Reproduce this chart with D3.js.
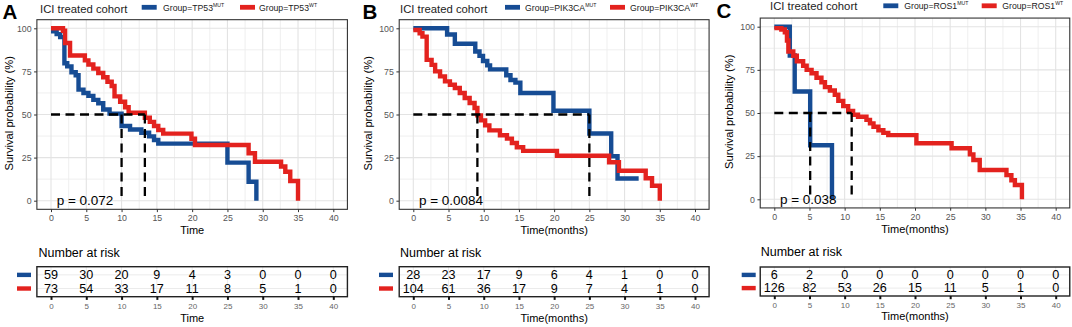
<!DOCTYPE html>
<html><head><meta charset="utf-8">
<script src="https://cdn.jsdelivr.net/npm/d3@7"></script>
<style>
body{margin:0;background:#fff}
svg{display:block}
text{font-family:"Liberation Sans",Arial,Helvetica,sans-serif}
</style>
</head><body>
<svg id="chart" width="1072" height="327"></svg>
<script>
// ---------------- DATA ----------------
const timeTicks = [0, 5, 10, 15, 20, 25, 30, 35, 40];
const survTicks = [0, 25, 50, 75, 100];
const panelLetters = ["A", "B", "C"];
const genes = ["TP53", "PIK3CA", "ROS1"];
const groupSuffix = ["MUT", "WT"];
const plotTitle = "ICI treated cohort";
const xTitles = ["Time", "Time(months)", "Time(months)"];
const pValues = ["p = 0.072", "p = 0.0084", "p = 0.038"];

// Panel A (TP53)
const aMutTime = [0, 0.8, 1.3, 1.9, 2.3, 2.9, 3.5, 3.9, 4.6, 5.3, 6.0, 6.7, 7.4, 8.3, 10.0, 11.2, 12.8, 13.9, 14.6, 15.2, 25.0, 28.0, 29.1];
const aMutSurv = [98.3, 96.6, 94.9, 79.7, 77.9, 74.5, 72.8, 64.4, 62.5, 60.8, 58.5, 56.5, 52.9, 50.5, 43.3, 41.3, 39.4, 37.3, 35.2, 33.1, 22.1, 11.0, 0];
const aWtTime = [0, 1.7, 2.0, 2.7, 4.8, 5.3, 6.0, 6.7, 7.4, 8.0, 8.6, 9.0, 9.8, 10.5, 11.0, 13.3, 14.0, 14.6, 15.2, 15.9, 19.9, 20.4, 28.0, 28.9, 32.6, 33.2, 33.9, 35.0];
const aWtSurv = [100, 98.6, 91.5, 84.2, 81.4, 79.0, 76.6, 74.1, 71.6, 69.0, 66.5, 60.5, 57.4, 54.2, 51.0, 48.1, 45.7, 43.3, 41.0, 38.9, 35.9, 32.3, 27.5, 22.6, 19.8, 16.8, 11.4, 0];
const aMedians = [10.0, 13.3];
const aRiskMut = [59, 30, 20, 9, 4, 3, 0, 0, 0];
const aRiskWt = [73, 54, 33, 17, 11, 8, 5, 1, 0];

// Panel B (PIK3CA)
const bMutTime = [0, 4.8, 5.9, 8.8, 9.4, 9.9, 10.5, 10.9, 13.2, 13.8, 14.5, 15.2, 19.9, 25.0, 28.1, 29.0, 32.0];
const bMutSurv = [100, 96.4, 91.0, 86.5, 84.0, 81.0, 78.5, 76.2, 72.8, 70.0, 68.5, 62.5, 52.2, 39.0, 25.8, 12.9, 12.9];
const bWtTime = [0, 0.9, 1.3, 1.9, 2.6, 3.1, 3.8, 4.5, 5.2, 5.9, 6.6, 7.3, 8.0, 8.7, 9.1, 9.6, 10.2, 10.8, 12.3, 13.3, 14.0, 14.7, 15.6, 20.4, 27.8, 29.2, 33.0, 33.9, 35.0];
const bWtSurv = [99, 97.1, 95.2, 81.7, 78.8, 75.0, 72.1, 69.2, 67.3, 65.4, 62.5, 59.6, 56.7, 53.8, 49.5, 46.6, 43.7, 40.8, 38.0, 36.0, 33.5, 31.0, 28.9, 26.1, 22.3, 17.4, 13.0, 8.7, 0];
const bMedians = [9.1, 25.0];
const bRiskMut = [28, 23, 17, 9, 6, 4, 1, 0, 0];
const bRiskWt = [104, 61, 36, 17, 9, 7, 4, 1, 0];

// Panel C (ROS1)
const cMutTime = [0, 2.2, 2.9, 5.1, 8.2];
const cMutSurv = [100, 83.3, 62.5, 31.3, 0];
const cWtTime = [0, 1.0, 1.5, 1.8, 2.0, 2.7, 3.2, 4.1, 4.6, 5.3, 6.0, 6.7, 7.2, 7.9, 8.6, 9.1, 9.8, 10.5, 11.2, 11.9, 13.1, 13.6, 14.1, 14.8, 15.5, 16.2, 20.2, 25.2, 27.8, 28.3, 29.2, 33.0, 33.7, 34.2, 35.2];
const cWtSurv = [99.2, 98.4, 96.8, 92.0, 85.6, 83.2, 80.0, 77.4, 75.0, 73.0, 70.4, 67.8, 65.0, 63.0, 60.6, 57.0, 54.0, 51.2, 49.0, 47.8, 46.0, 44.0, 42.0, 40.0, 38.5, 37.2, 32.5, 29.6, 26.0, 22.8, 17.0, 14.0, 11.0, 8.3, 0];
const cMedians = [5.1, 11.0];
const cRiskMut = [6, 2, 0, 0, 0, 0, 0, 0, 0];
const cRiskWt = [126, 82, 53, 26, 15, 11, 5, 1, 0];

// ---------------- STYLE / LAYOUT ----------------
const colMut = "#164C94";
const colWt = "#E3221E";
const layout = [
  {x0: 51, x40: 333.3, y0: 200.7, y100: 28.3, letterX: 2.5, letterY: 19.3, titleX: 40, titleY: 12.5,
   legSw: [141.7, 240], legTx: [163, 259], legY: 7.3, legTY: 10.6, yTitleX: 8.5, yTitleY: 113.3, xTitleY: 230,
   tabTop: 266.7, tabBot: 296.7, narX: 38.5, narY: 257.3, swX: 17, botTitleY: 317.5},
  {x0: 413.3, x40: 695, y0: 200.7, y100: 28.3, letterX: 362.5, letterY: 19.3, titleX: 400, titleY: 12.5,
   legSw: [505, 610], legTx: [525, 630], legY: 7.3, legTY: 10.6, yTitleX: 368.3, yTitleY: 113.3, xTitleY: 230,
   tabTop: 266.7, tabBot: 296.7, narX: 400, narY: 257.3, swX: 379, botTitleY: 317.5},
  {x0: 774.3, x40: 1055.7, y0: 199.3, y100: 26.7, letterX: 716.5, letterY: 18.3, titleX: 770, titleY: 10,
   legSw: [883.3, 981.7], legTx: [904.3, 1002.3], legY: 5.8, legTY: 9, yTitleX: 728.5, yTitleY: 111.7, xTitleY: 228.5,
   tabTop: 267, tabBot: 296, narX: 760.7, narY: 255.8, swX: 741.7, botTitleY: 316.3}
];

const panels = [
  {mut: [aMutTime, aMutSurv], wt: [aWtTime, aWtSurv], med: aMedians, risk: [aRiskMut, aRiskWt]},
  {mut: [bMutTime, bMutSurv], wt: [bWtTime, bWtSurv], med: bMedians, risk: [bRiskMut, bRiskWt]},
  {mut: [cMutTime, cMutSurv], wt: [cWtTime, cWtSurv], med: cMedians, risk: [cRiskMut, cRiskWt]}
];

const svg = d3.select("#chart");
svg.append("rect").attr("width", 1072).attr("height", 327).attr("fill", "#fff");

panels.forEach((p, i) => {
  const L = layout[i];
  const g = svg.append("g");
  const unit = (L.x40 - L.x0) / 40;
  const x = d3.scaleLinear().domain([0, 40]).range([L.x0, L.x40]);
  const left = x(-2), right = x(42);
  const y = d3.scaleLinear().domain([0, 100]).range([L.y0, L.y100]);
  const top = y(105), bottom = y(-5);

  // grid minor
  const minorX = d3.range(2.5, 40, 5);
  const minorY = d3.range(12.5, 100, 25);
  g.append("g").selectAll("line").data(minorX).join("line")
    .attr("x1", d => x(d)).attr("x2", d => x(d)).attr("y1", top).attr("y2", bottom)
    .attr("stroke", "#EDEDED").attr("stroke-width", 0.9);
  g.append("g").selectAll("line").data(minorY).join("line")
    .attr("y1", d => y(d)).attr("y2", d => y(d)).attr("x1", left).attr("x2", right)
    .attr("stroke", "#EDEDED").attr("stroke-width", 0.9);
  g.append("g").selectAll("line").data(timeTicks).join("line")
    .attr("x1", d => x(d)).attr("x2", d => x(d)).attr("y1", top).attr("y2", bottom)
    .attr("stroke", "#E3E3E3").attr("stroke-width", 1.1);
  g.append("g").selectAll("line").data(survTicks).join("line")
    .attr("y1", d => y(d)).attr("y2", d => y(d)).attr("x1", left).attr("x2", right)
    .attr("stroke", "#E3E3E3").attr("stroke-width", 1.1);

  // curves
  const line = d3.line().x(d => x(d[0])).y(d => y(d[1])).curve(d3.curveStepAfter);
  [[p.mut, colMut], [p.wt, colWt]].forEach(([arr, col]) => {
    const pts = arr[0].map((t, k) => [t, arr[1][k]]);
    g.append("path").attr("d", line(pts)).attr("fill", "none")
      .attr("stroke", col).attr("stroke-width", 4.4).attr("stroke-linejoin", "miter");
  });

  // median lines
  const dash = "9,5.5";
  g.append("line").attr("x1", x(0)).attr("x2", x(d3.max(p.med))).attr("y1", y(50)).attr("y2", y(50))
    .attr("stroke", "#000").attr("stroke-width", 2.3).attr("stroke-dasharray", dash);
  g.append("g").selectAll("line").data(p.med).join("line")
    .attr("x1", d => x(d)).attr("x2", d => x(d)).attr("y1", y(50)).attr("y2", y(0))
    .attr("stroke", "#000").attr("stroke-width", 2.3).attr("stroke-dasharray", dash);

  // panel border
  g.append("rect").attr("x", left).attr("y", top).attr("width", right - left).attr("height", bottom - top)
    .attr("fill", "none").attr("stroke", "#333").attr("stroke-width", 1.1);

  // axes
  const xAxis = g.append("g").attr("transform", `translate(0,${bottom})`)
    .call(d3.axisBottom(x).tickValues(timeTicks).tickSize(2.8).tickPadding(2.8));
  const yAxis = g.append("g").attr("transform", `translate(${left},0)`)
    .call(d3.axisLeft(y).tickValues(survTicks).tickSize(2.8).tickPadding(2.5));
  [xAxis, yAxis].forEach(a => {
    a.select(".domain").remove();
    a.selectAll(".tick line").attr("stroke", "#333").attr("stroke-width", 1);
    a.selectAll(".tick text").attr("fill", "#555").attr("font-size", 8.8)
      .attr("font-family", '"Liberation Sans",Arial,sans-serif');
  });

  // p value
  g.append("text").attr("x", x(0) + 0.8 * unit).attr("y", y(0) + 4.3).text(pValues[i])
    .attr("font-size", 13.5).attr("fill", "#000");

  // axis titles
  g.append("text").attr("transform", `translate(${L.yTitleX},${L.yTitleY}) rotate(-90)`)
    .attr("text-anchor", "middle").attr("dominant-baseline", "central")
    .attr("font-size", 11.2).attr("fill", "#000").text("Survival probability (%)");
  g.append("text").attr("x", (left + right) / 2).attr("y", L.xTitleY).attr("dominant-baseline", "central")
    .attr("text-anchor", "middle").attr("font-size", 11).text(xTitles[i]);

  // panel letter, title
  g.append("text").attr("x", L.letterX).attr("y", L.letterY).attr("font-size", 20.5)
    .attr("font-weight", "bold").text(panelLetters[i]);
  g.append("text").attr("x", L.titleX).attr("y", L.titleY).attr("font-size", 11.3)
    .attr("fill", "#222").text(plotTitle);

  // legend
  [colMut, colWt].forEach((col, k) => {
    g.append("rect").attr("x", L.legSw[k]).attr("y", L.legY - 2.4).attr("width", 15).attr("height", 4.8)
      .attr("fill", col);
    const t = g.append("text").attr("x", L.legTx[k]).attr("y", L.legTY).attr("font-size", 8.7).attr("fill", "#222");
    t.append("tspan").text("Group=" + genes[i]);
    t.append("tspan").attr("font-size", 5.2).attr("dy", -3.6).text(groupSuffix[k]);
  });

  // ---------- risk table ----------
  const rows = ["mut", "wt"];
  const ry = d3.scalePoint().domain(rows).range([L.tabTop, L.tabBot]).padding(0.6);
  const tg = svg.append("g");
  tg.append("g").selectAll("line").data(timeTicks).join("line")
    .attr("x1", d => x(d)).attr("x2", d => x(d)).attr("y1", L.tabTop).attr("y2", L.tabBot)
    .attr("stroke", "#EBEBEB").attr("stroke-width", 1);
  tg.append("g").selectAll("line").data(rows).join("line")
    .attr("y1", d => ry(d)).attr("y2", d => ry(d)).attr("x1", left).attr("x2", right)
    .attr("stroke", "#EBEBEB").attr("stroke-width", 1);
  rows.forEach((r, k) => {
    tg.append("g").selectAll("text").data(p.risk[k]).join("text")
      .attr("x", (d, j) => x(timeTicks[j])).attr("y", ry(r)).attr("dominant-baseline", "central")
      .attr("text-anchor", "middle").attr("font-size", 12.6).attr("fill", "#000").text(d => d);
    tg.append("rect").attr("x", L.swX).attr("y", ry(r) - 2.2).attr("width", 14).attr("height", 4.4)
      .attr("fill", k === 0 ? colMut : colWt);
  });
  tg.append("rect").attr("x", left).attr("y", L.tabTop).attr("width", right - left).attr("height", L.tabBot - L.tabTop)
    .attr("fill", "none").attr("stroke", "#222").attr("stroke-width", 1.4);
  const tAxis = tg.append("g").attr("transform", `translate(0,${L.tabBot})`)
    .call(d3.axisBottom(x).tickValues(timeTicks).tickSize(3.2).tickPadding(3));
  tAxis.select(".domain").remove();
  tAxis.selectAll(".tick line").attr("stroke", "#111").attr("stroke-width", 2);
  tAxis.selectAll(".tick text").attr("fill", "#666").attr("font-size", 8)
    .attr("font-family", '"Liberation Sans",Arial,sans-serif');
  tg.append("text").attr("x", L.narX).attr("y", L.narY).attr("font-size", 12.5).text("Number at risk");
  tg.append("text").attr("x", (left + right) / 2).attr("y", L.botTitleY).attr("dominant-baseline", "central")
    .attr("text-anchor", "middle").attr("font-size", 11).text(xTitles[i]);
});
</script>
</body></html>
